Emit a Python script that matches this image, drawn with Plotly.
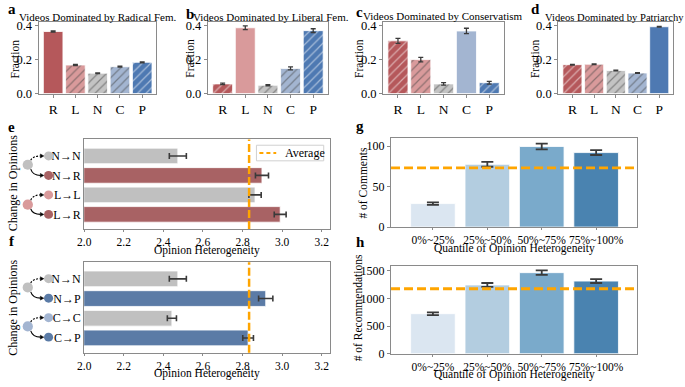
import plotly.graph_objects as go

W, H = 685, 387
FONT = "Liberation Serif"

# ---------------- data ----------------
cats = ["R", "L", "N", "C", "P"]
titles = ["Videos Dominated by Radical Fem.", "Videos Dominated by Liberal Fem.",
          "Videos Dominated by Conservatism", "Videos Dominated by Patriarchy"]
frac_radical = [0.365, 0.168, 0.120, 0.158, 0.184]
err_radical = [0.003, 0.003, 0.002, 0.003, 0.003]
frac_liberal = [0.057, 0.387, 0.049, 0.148, 0.370]
err_liberal = [0.004, 0.011, 0.003, 0.009, 0.011]
frac_conserv = [0.310, 0.200, 0.057, 0.368, 0.064]
err_conserv = [0.015, 0.013, 0.007, 0.016, 0.008]
frac_patri = [0.170, 0.173, 0.136, 0.121, 0.393]
err_patri = [0.002, 0.002, 0.002, 0.002, 0.002]
dominant = ["R", "L", "C", "P"]

e_labels = ["N→N", "N→R", "L→L", "L→R"]
e_vals = [2.473, 2.898, 2.863, 2.990]
e_err = [0.043, 0.033, 0.031, 0.030]
f_labels = ["N→N", "N→P", "C→C", "C→P"]
f_vals = [2.473, 2.917, 2.443, 2.828]
f_err = [0.043, 0.036, 0.023, 0.027]
avg_het = 2.833

quantiles = ["0%~25%", "25%~50%", "50%~75%", "75%~100%"]
comments = [29, 77.5, 99.5, 92]
comments_err = [1.5, 3.0, 3.5, 3.0]
avg_comments = 73.2
recs = [725, 1245, 1468, 1315]
recs_err = [25, 35, 40, 35]
avg_recs = 1176

# ---------------- styles ----------------
top_colors = {"R": "#b5585b", "L": "#d99a9b", "N": "#c3c3c3", "C": "#a3b5d1", "P": "#4e79b2"}
ef_gray = "#c0c0c0"
ef_red = "#a86264"
ef_pink = "#d99a9b"
ef_blue = "#5b7ba6"
ef_lblue = "#a3b5d1"
blues = ["#dbe6f1", "#b3cde0", "#7aaacb", "#4a83b0"]
ORANGE = "#FFA500"
FRAME = "#8a8a8a"
ERRC = "#3a3a3a"


def X(px):
    return px / W


def Y(py):
    return 1 - py / H


def dx(a, b):
    return [a / W, b / W]


def dy(top, bottom):
    return [1 - bottom / H, 1 - top / H]


fig = go.Figure()
layout = dict(width=W, height=H, margin=dict(l=0, r=0, t=0, b=0), autosize=False,
              paper_bgcolor="white", plot_bgcolor="white", showlegend=False,
              font=dict(family=FONT, color="black"))


def axis_style(**kw):
    d = dict(showline=True, mirror=True, linecolor=FRAME, linewidth=1.2, ticks="outside",
             ticklen=3, tickcolor=FRAME, showgrid=False, zeroline=False,
             tickfont=dict(family=FONT, size=12.5, color="black"))
    d.update(kw)
    return d


annotations = []
shapes = []


def txt(s, x, y, size, angle=0, bold=False, xanchor="center", yanchor="middle"):
    annotations.append(dict(text=("<b>%s</b>" % s) if bold else s, x=X(x), y=Y(y),
                            xref="paper", yref="paper", showarrow=False,
                            xanchor=xanchor, yanchor=yanchor, textangle=angle,
                            font=dict(family=FONT, size=size, color="black")))


# ---------------- top row a-d ----------------
top_data = [(frac_radical, err_radical), (frac_liberal, err_liberal),
            (frac_conserv, err_conserv), (frac_patri, err_patri)]
top_dom = [(32, 151), (203, 324), (380, 502), (557, 673)]
title_pos = [(92, 14), (267, 14), (441, 13), (614, 15)]
title_size = [11, 11, 11, 10.6]
frac_x = [8, 184, 355, 533]
for i, ((vals, errs), (x0, x1)) in enumerate(zip(top_data, top_dom)):
    n = i + 1
    xa = "x" if n == 1 else "x%d" % n
    ya = "y" if n == 1 else "y%d" % n
    shapes_list = ["" if c == dominant[i] else "/" for c in cats]
    fig.add_trace(go.Bar(
        x=cats, y=vals, width=0.88, xaxis=xa, yaxis=ya,
        marker=dict(color=[top_colors[c] for c in cats],
                    line=dict(color="white", width=0.8),
                    pattern=dict(shape=shapes_list, fgcolor="white", size=6, solidity=0.2)),
        error_y=dict(type="data", array=errs, color=ERRC, thickness=1.3, width=2.5)))
    layout["xaxis" if n == 1 else "xaxis%d" % n] = axis_style(
        domain=dx(x0, x1), anchor=ya, type="category", range=[-0.65, 4.64],
        tickfont=dict(family=FONT, size=13.5, color="black"))
    layout["yaxis" if n == 1 else "yaxis%d" % n] = axis_style(
        domain=dy(20, 93), anchor=xa, range=[0, 0.418], tickvals=[0, 0.2, 0.4],
        tickformat=".1f")
    txt(titles[i], title_pos[i][0], title_pos[i][1], title_size[i])
    txt("Fraction", frac_x[i], 57, 11.5, angle=-90)

# ---------------- e, f ----------------
ef_specs = [
    (5, e_labels, e_vals, e_err, [ef_gray, ef_red, ef_gray, ef_red], (140, 232)),
    (6, f_labels, f_vals, f_err, [ef_gray, ef_blue, ef_gray, ef_blue], (266, 359)),
]
for n, labels, vals, errs, cols, (t, b) in ef_specs:
    xa, ya = "x%d" % n, "y%d" % n
    fig.add_trace(go.Bar(
        y=labels, x=vals, orientation="h", width=0.8, xaxis=xa, yaxis=ya,
        marker=dict(color=cols, line=dict(color="white", width=0.8)),
        error_x=dict(type="data", array=errs, color=ERRC, thickness=1.6, width=3)))
    layout["xaxis%d" % n] = axis_style(
        domain=dx(78, 326), anchor=ya, range=[2.0, 3.24], ticklen=2,
        tickvals=[2.0, 2.2, 2.4, 2.6, 2.8, 3.0, 3.2], tickformat=".1f",
        tickfont=dict(family=FONT, size=11.5, color="black"))
    layout["yaxis%d" % n] = axis_style(
        domain=dy(t, b), anchor=xa, type="category", categoryorder="array",
        categoryarray=labels, range=[3.75, -0.85], ticks="",
        tickfont=dict(family=FONT, size=12, color="black"))
    shapes.append(dict(type="line", xref=xa, yref="%s domain" % ya, x0=avg_het, x1=avg_het,
                       y0=0, y1=1, line=dict(color=ORANGE, width=2.5, dash="8px,3px"),
                       layer="above"))

txt("Opinion Heterogeneity", 202, 254, 11.5)
txt("Opinion Heterogeneity", 202, 380, 11.5)
txt("Change in Opinions", 6, 185, 12, angle=-90)
txt("Change in Opinions", 6, 313, 12, angle=-90)

# legend of e
shapes.append(dict(type="rect", xref="paper", yref="paper", x0=X(252), x1=X(320),
                   y0=Y(162), y1=Y(146), line=dict(color="#d0d0d0", width=1),
                   fillcolor="white", layer="above"))
shapes.append(dict(type="line", xref="paper", yref="paper", x0=X(255), x1=X(272),
                   y0=Y(154), y1=Y(154), line=dict(color=ORANGE, width=2, dash="4px,3px"),
                   layer="above"))
txt("Average", 279, 153.5, 12, xanchor="left")


# circles and curved arrows
def circle(cx, cy, r, color):
    shapes.append(dict(type="circle", xref="paper", yref="paper",
                       x0=X(cx - r), x1=X(cx + r), y0=Y(cy + r), y1=Y(cy - r),
                       fillcolor=color, line=dict(width=0), layer="above"))


def curve(p0, c, p1, dash):
    path = "M %f,%f Q %f,%f %f,%f" % (X(p0[0]), Y(p0[1]), X(c[0]), Y(c[1]), X(p1[0]), Y(p1[1]))
    shapes.append(dict(type="path", xref="paper", yref="paper", path=path,
                       line=dict(color="black", width=1.1, dash=dash), layer="above"))


def head(tx, ty):
    path = "M %f,%f L %f,%f L %f,%f Z" % (X(tx), Y(ty), X(tx - 3.5), Y(ty - 2), X(tx - 3.5), Y(ty + 2))
    shapes.append(dict(type="path", xref="paper", yref="paper", path=path,
                       fillcolor="black", line=dict(color="black", width=0.5), layer="above"))


def group(by, up_y, dn_y, src_col, up_col, dn_col):
    circle(21, by, 5.2, src_col)
    circle(42, up_y, 4.6, up_col)
    circle(42, dn_y, 4.6, dn_col)
    curve((24, by - 4.5), (26, up_y), (34, up_y), "2px,1.5px")
    curve((24, by + 4.5), (26, dn_y), (34, dn_y), "solid")
    head(37.2, up_y)
    head(37.2, dn_y)


group(166, 157, 177, ef_gray, ef_gray, ef_red)
group(207, 197, 217, ef_pink, ef_pink, ef_red)
group(292, 283, 303, ef_gray, ef_gray, ef_blue)
group(332, 323, 343, ef_lblue, ef_lblue, ef_blue)

# ---------------- g, h ----------------
gh_specs = [
    (7, comments, comments_err, avg_comments, (139, 230), [0, 109.5], [0, 50, 100]),
    (8, recs, recs_err, avg_recs, (270, 360), [0, 1588], [0, 500, 1000, 1500]),
]
for n, vals, errs, avg, (t, b), yr, tv in gh_specs:
    xa, ya = "x%d" % n, "y%d" % n
    fig.add_trace(go.Bar(
        x=quantiles, y=vals, width=0.82, xaxis=xa, yaxis=ya,
        marker=dict(color=blues, line=dict(color="white", width=0.8)),
        error_y=dict(type="data", array=errs, color=ERRC, thickness=1.8, width=6)))
    layout["xaxis%d" % n] = axis_style(
        domain=dx(388, 637), anchor=ya, type="category", range=[-0.77, 3.76], ticklen=2,
        tickfont=dict(family=FONT, size=11.5, color="black"))
    layout["yaxis%d" % n] = axis_style(
        domain=dy(t, b), anchor=xa, range=yr, tickvals=tv,
        tickfont=dict(family=FONT, size=12, color="black"))
    shapes.append(dict(type="line", xref="%s domain" % xa, yref=ya, x0=0, x1=1,
                       y0=avg, y1=avg, line=dict(color=ORANGE, width=2.8, dash="9px,4px"),
                       layer="above"))

txt("# of Comments", 360, 185, 11.5, angle=-90)
txt("# of Recommendations", 355, 313, 11.5, angle=-90)
txt("Quantile of Opinion Heterogeneity", 513, 252, 11.5)
txt("Quantile of Opinion Heterogeneity", 513, 381.5, 11.5)

# panel letters
for letter, (x, y) in zip("abcdefgh", [(5, 6), (185, 11), (356, 9), (534, 6),
                                         (5, 127), (5, 244), (357, 126), (357, 245)]):
    txt(letter, x, y, 15, bold=True)

layout["annotations"] = annotations
layout["shapes"] = shapes
fig.update_layout(**layout)
fig.write_html("out.html", config={"displayModeBar": False},
               post_script="document.body.style.margin='0';document.body.style.overflow='hidden';")
